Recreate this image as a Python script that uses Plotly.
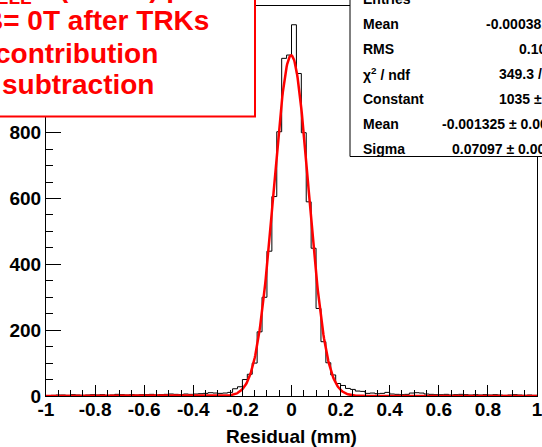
import numpy as np
import plotly.graph_objects as go

# ---------------- data ----------------
bin_lo = -1.0
bin_hi = 1.0
counts = [
    1, 2, 3, 3, 2, 4, 3, 2, 3, 4,          # -1.00 .. -0.80
    3, 4, 2, 3, 5, 4, 3, 4, 3, 4,          # -0.80 .. -0.60
    4, 5, 3, 4, 5, 6, 5, 4, 6, 5,          # -0.60 .. -0.40
    6, 7, 8, 10, 9, 8, 9, 11, 22, 28,      # -0.40 .. -0.20
    50, 66, 100, 195, 300, 440, 606, 803, 1026, 1036,   # -0.20 .. 0
    1128, 980, 800, 590, 449, 266, 165, 101, 64, 38,    # 0 .. 0.20
    32, 23, 20, 15, 14, 8, 9, 7, 8, 11,    # 0.20 .. 0.40
    6, 5, 4, 5, 9, 10, 9, 6, 5, 4,         # 0.40 .. 0.60
    4, 5, 3, 4, 5, 4, 3, 4, 3, 4,          # 0.60 .. 0.80
    3, 4, 3, 2, 3, 4, 3, 2, 3, 2,          # 0.80 .. 1.00
]
fit_constant = 1035.0
fit_mean = -0.001325
fit_sigma = 0.07097

x_tick_values = [-1, -0.8, -0.6, -0.4, -0.2, 0, 0.2, 0.4, 0.6, 0.8, 1]
x_tick_labels = ["-1", "-0.8", "-0.6", "-0.4", "-0.2", "0", "0.2", "0.4", "0.6", "0.8", "1"]
y_tick_values = [0, 200, 400, 600, 800, 1000]
y_tick_labels = ["0", "200", "400", "600", "800", "1000"]

stats_labels = ["Entries", "Mean", "RMS", "χ<sup>2</sup> / ndf", "Constant", "Mean", "Sigma"]
stats_values = ["", "-0.0003812", "0.1028", "349.3 / 97", "1035 ± 14.2",
                "-0.001325 ± 0.000780", "0.07097 ± 0.00061"]
text_sub = "CELL"
text_lines = ["(Barrel) per", "B= 0T after TRKs", "contribution", "subtraction"]

# ---------------- geometry ----------------
W, H = 542, 447
ML, MR, MT, MB = 46, 5, 6, 51
PW, PH = W - ML - MR, H - MT - MB


def px(xp):
    return (xp - ML) / PW


def py(yp):
    return (H - MB - yp) / PH


nb = len(counts)
edges = np.linspace(bin_lo, bin_hi, nb + 1)
hx = list(edges)
hy = list(counts) + [counts[-1]]

xf = np.linspace(bin_lo, bin_hi, 801)
yf = fit_constant * np.exp(-0.5 * ((xf - fit_mean) / fit_sigma) ** 2)

fig = go.Figure()
fig.add_trace(go.Scatter(x=hx, y=hy, mode="lines", line=dict(shape="hv", color="black", width=1),
                         hoverinfo="skip"))
fig.add_trace(go.Scatter(x=xf, y=yf, mode="lines", line=dict(color="#ff0000", width=2.5),
                         hoverinfo="skip"))

tickfont = dict(family="Liberation Sans, Arial, sans-serif", size=19, color="black", weight="bold")

fig.update_layout(
    width=W, height=H, margin=dict(l=ML, r=MR, t=MT, b=MB),
    paper_bgcolor="white", plot_bgcolor="white", showlegend=False,
    xaxis=dict(range=[bin_lo, bin_hi], tickmode="array", tickvals=x_tick_values, ticktext=x_tick_labels,
               ticks="inside", ticklen=11, tickwidth=1, tickcolor="black",
               minor=dict(ticks="inside", ticklen=6, dtick=0.05, tick0=0, tickcolor="black", tickwidth=1),
               showline=True, linecolor="black", linewidth=1, mirror=True, automargin=False,
               showgrid=False, zeroline=False, tickfont=tickfont,
               ticklabeloverflow="allow", ticklabelstandoff=-4,
               title=dict(text="Residual (mm)", font=tickfont, standoff=16)),
    yaxis=dict(range=[0, 1185], tickmode="array", tickvals=y_tick_values, ticktext=y_tick_labels,
               ticks="inside", ticklen=15, tickwidth=1, tickcolor="black",
               minor=dict(ticks="inside", ticklen=7, dtick=50, tick0=0, tickcolor="black", tickwidth=1),
               showline=True, linecolor="black", linewidth=1, mirror=True, automargin=False,
               showgrid=False, zeroline=False, tickfont=tickfont, ticklabeloverflow="allow"),
)

# text box (top-left)
fig.add_shape(type="rect", xref="paper", yref="paper", x0=px(-60), x1=px(255), y0=py(116.5), y1=py(-30),
              line=dict(color="#ff0000", width=2), fillcolor="white", layer="above")
# stats box (top-right)
fig.add_shape(type="rect", xref="paper", yref="paper", x0=px(350), x1=px(600), y0=py(156.5), y1=py(-30),
              line=dict(color="black", width=1), fillcolor="white", layer="above")

redfont = dict(family="Liberation Sans, Arial, sans-serif", size=28, color="#ff0000", weight="bold")
subfont = dict(family="Liberation Sans, Arial, sans-serif", size=19, color="#ff0000", weight="bold")
fig.add_annotation(xref="paper", yref="paper", x=px(34), y=py(-2.8), text=text_sub, showarrow=False,
                   xanchor="right", yanchor="middle", font=subfont)
# line anchors (x, cap centre, anchor)
line_pos = [(57, -12.2, "left"), (211, 20.3, "right"), (160, 53.6, "right"), (156, 84.6, "right")]
for t, (xa, yc, anc) in zip(text_lines, line_pos):
    fig.add_annotation(xref="paper", yref="paper", x=px(xa), y=py(yc), text=t, showarrow=False,
                       xanchor=anc, yanchor="middle", font=redfont)

statfont = dict(family="Liberation Sans, Arial, sans-serif", size=14, color="black", weight="bold")
value_starts = [545, 484, 516.7, 496.7, 496.7, 440, 450]
for i, (lab, val) in enumerate(zip(stats_labels, stats_values)):
    yc = 4.3 + 25 * i - 5
    fig.add_annotation(xref="paper", yref="paper", x=px(361), y=py(yc), text=lab, showarrow=False,
                       xanchor="left", yanchor="middle", font=statfont)
    if val:
        fig.add_annotation(xref="paper", yref="paper", x=px(value_starts[i]), y=py(yc), text=val,
                           showarrow=False, xanchor="left", yanchor="middle", font=statfont)

fig.write_html("out.html")
